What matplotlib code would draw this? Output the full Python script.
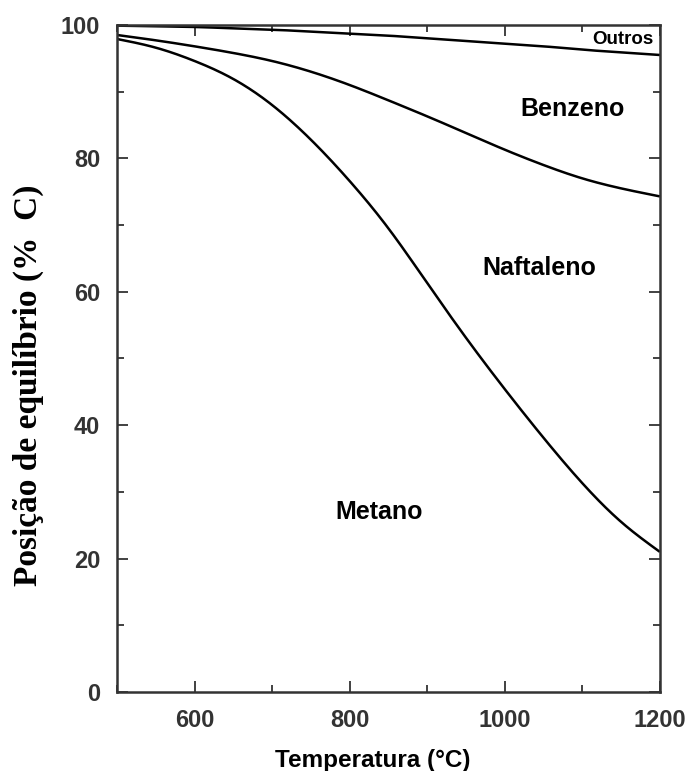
#!/usr/bin/env python3

import matplotlib
matplotlib.use('Agg')
import matplotlib.pyplot as plt
from matplotlib.ticker import MultipleLocator
import numpy as np

# temperature grid, degC
temperature = [500, 550, 600, 650, 700, 750, 800, 850, 900, 950,
               1000, 1050, 1100, 1150, 1200]

# cumulative equilibrium position, % C (upper boundary of each region)
metano = [97.9, 96.6, 94.6, 91.9, 88.0, 82.8, 76.6, 69.5, 61.3, 53.1,
          45.4, 38.1, 31.3, 25.5, 21.0]
naftaleno = [98.5, 97.7, 96.8, 95.8, 94.6, 93.0, 91.0, 88.7, 86.3, 83.8,
             81.3, 79.0, 77.0, 75.5, 74.3]
outros = [99.9, 99.8, 99.7, 99.5, 99.3, 99.0, 98.7, 98.4, 98.0, 97.6,
          97.2, 96.8, 96.3, 95.9, 95.5]

region_labels = ['Metano', 'Naftaleno', 'Benzeno', 'Outros']
region_label_xy = [(838, 27.0), (1044, 63.6), (1088, 87.4), (1152, 97.75)]
region_label_size = [18, 18, 18, 13.5]


def natural_spline(x, y, n=400):
    """Natural cubic spline through (x, y), sampled on n points."""
    x = np.asarray(x, float)
    y = np.asarray(y, float)
    k = len(x)
    h = np.diff(x)
    a = np.zeros((k, k))
    b = np.zeros(k)
    a[0, 0] = a[-1, -1] = 1.0
    for i in range(1, k - 1):
        a[i, i - 1] = h[i - 1]
        a[i, i] = 2 * (h[i - 1] + h[i])
        a[i, i + 1] = h[i]
        b[i] = 6 * ((y[i + 1] - y[i]) / h[i] - (y[i] - y[i - 1]) / h[i - 1])
    m = np.linalg.solve(a, b)

    xs = np.linspace(x[0], x[-1], n)
    idx = np.clip(np.searchsorted(x, xs) - 1, 0, k - 2)
    hi = h[idx]
    t0 = x[idx + 1] - xs
    t1 = xs - x[idx]
    ys = (m[idx] * t0**3 / (6 * hi) + m[idx + 1] * t1**3 / (6 * hi)
          + (y[idx] / hi - m[idx] * hi / 6) * t0
          + (y[idx + 1] / hi - m[idx + 1] * hi / 6) * t1)
    return xs, ys


def main():
    plt.rcParams['font.family'] = ['Liberation Sans', 'DejaVu Sans']
    fig = plt.figure(figsize=(6.91, 7.71), dpi=100)
    ax = fig.add_axes([0.1693, 0.1025, 0.7857, 0.8651])

    for series in (metano, naftaleno, outros):
        xs, ys = natural_spline(temperature, series)
        ax.plot(xs, ys, color='black', lw=1.8, solid_capstyle='butt')

    for text, (x, y), size in zip(region_labels, region_label_xy,
                                  region_label_size):
        ax.text(x, y, text, ha='center', va='center', fontsize=size,
                fontweight='bold', color='black')

    ax.set_xlim(500, 1200)
    ax.set_ylim(0, 100)
    ax.xaxis.set_major_locator(MultipleLocator(200))
    ax.xaxis.set_minor_locator(MultipleLocator(100))
    ax.yaxis.set_major_locator(MultipleLocator(20))
    ax.yaxis.set_minor_locator(MultipleLocator(10))
    ax.set_xticks([600, 800, 1000, 1200])

    for spine in ax.spines.values():
        spine.set_linewidth(1.8)
        spine.set_color('#333333')
    ax.tick_params(which='both', direction='in', top=True, right=True,
                   color='#333333', width=1.3)
    ax.tick_params(which='major', length=8, pad=12, labelsize=17,
                   labelcolor='#333333')
    ax.tick_params(which='minor', length=5)
    for lab in ax.get_xticklabels() + ax.get_yticklabels():
        lab.set_fontweight('bold')

    ax.set_xlabel('Temperatura (°C)', fontsize=17.5, fontweight='bold')
    ax.xaxis.set_label_coords(0.471, -0.085)
    ax.set_ylabel('Posição de equilíbrio (%  C)', fontsize=24,
                  fontweight='bold', family='Liberation Serif')
    ax.yaxis.set_label_coords(-0.135, 0.46)

    fig.savefig('out.png', dpi=100)


if __name__ == "__main__":
    main()
